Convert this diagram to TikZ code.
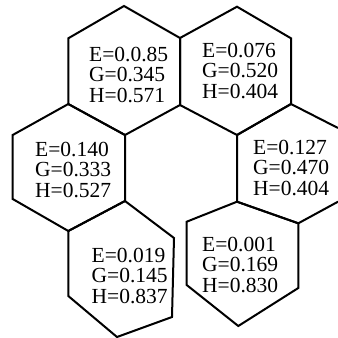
\documentclass[tikz,border=0pt]{standalone}
\usepackage{fontspec}
\setmainfont{Liberation Serif}
\begin{document}
\begin{tikzpicture}[x=1pt,y=-1pt,
  hexline/.style={draw=black,line width=2pt,line join=miter},
  lbl/.style={anchor=base west,inner sep=0pt,font=\fontsize{21.5}{22}\selectfont}]
\useasboundingbox (0,0) rectangle (338,338);
\fill[white] (0,0) rectangle (338,338);
% hex A (top left)
\draw[hexline] (124,6) -- (180,38) -- (180,105) -- (125,135) -- (68.3,104) -- (68.3,38.3) -- cycle;
% hex B (top right)
\draw[hexline] (237,6.7) -- (291,38.3) -- (291,104) -- (237,135) -- (180,105) -- (180,38) -- cycle;
% hex C (middle left)
\draw[hexline] (68.3,104) -- (125,135) -- (125,201) -- (68.3,231) -- (12.7,199) -- (12.7,135) -- cycle;
% hex D (middle right, cut by the right edge)
\draw[hexline] (338,128) -- (291,104) -- (237,135) -- (237,201.7) -- (298.3,223.3) -- (338,201.7);
% hex E (bottom left)
\draw[hexline] (125,201) -- (174,238) -- (172,317) -- (117,337) -- (68.3,296) -- (68.3,231) -- cycle;
% hex F (bottom right)
\draw[hexline] (237,201.7) -- (298.3,223.3) -- (298.3,288) -- (238.3,326) -- (186.7,285) -- (186.7,221.7) -- cycle;
% labels
\node[lbl] (a1) at (89,61) {E=0.0.85};
\node[lbl] (a2) at (89,81.5) {G=0.345};
\node[lbl] (a3) at (89,102) {H=0.571};
\node[lbl] (b1) at (202,57) {E=0.076};
\node[lbl] (b2) at (202,77.5) {G=0.520};
\node[lbl] (b3) at (202,98) {H=0.404};
\node[lbl] (c1) at (35,156) {E=0.140};
\node[lbl] (c2) at (35,176.5) {G=0.333};
\node[lbl] (c3) at (35,197) {H=0.527};
\node[lbl] (d1) at (253,154) {E=0.127};
\node[lbl] (d2) at (253,174.5) {G=0.470};
\node[lbl] (d3) at (253,195) {H=0.404};
\node[lbl] (e1) at (91.5,262) {E=0.019};
\node[lbl] (e2) at (91.5,282.5) {G=0.145};
\node[lbl] (e3) at (91.5,303) {H=0.837};
\node[lbl] (f1) at (202,251) {E=0.001};
\node[lbl] (f2) at (202,271.5) {G=0.169};
\node[lbl] (f3) at (202,292) {H=0.830};
\end{tikzpicture}
\end{document}
